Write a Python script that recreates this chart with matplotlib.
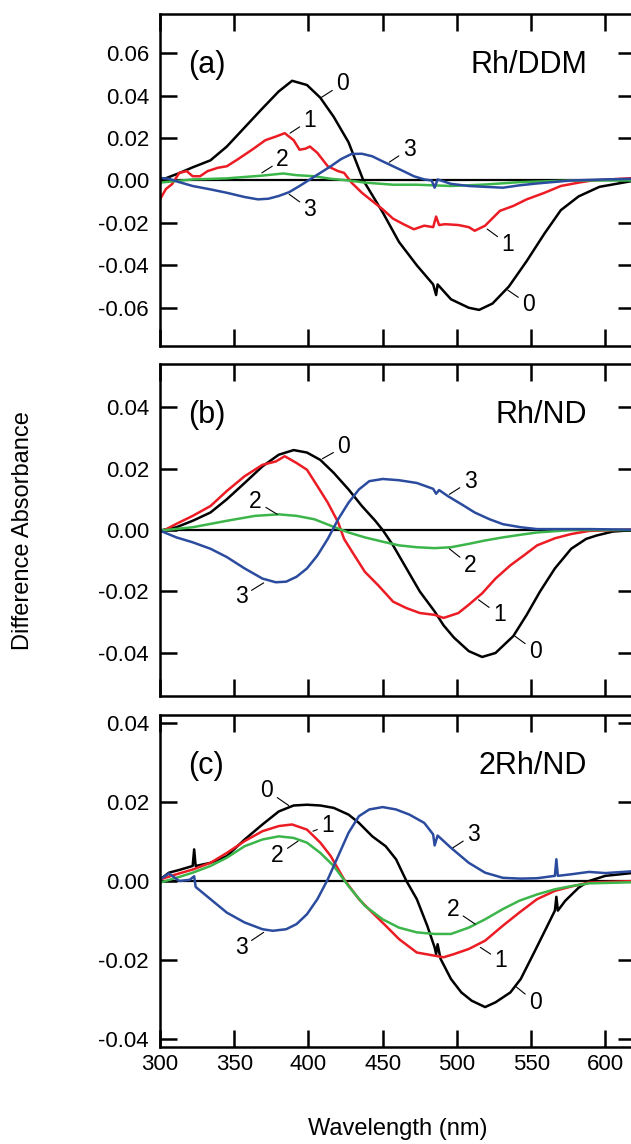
import matplotlib
matplotlib.use('Agg')
import matplotlib.pyplot as plt

plt.rcParams['font.family'] = ['Liberation Sans', 'DejaVu Sans']
plt.rcParams['axes.unicode_minus'] = False

# (wavelength nm, difference absorbance)
a_curve0 = [(300, 0.0), (313, 0.0035), (322, 0.0062), (334, 0.0095), (345, 0.016), (357, 0.025),
            (369, 0.034), (380, 0.042), (389, 0.047), (399, 0.045), (408, 0.039), (417, 0.030),
            (427, 0.018), (437, 0.0), (450, -0.015), (461, -0.029), (473, -0.040), (484, -0.049),
            (486, -0.054), (487, -0.049), (496, -0.056), (508, -0.060), (515, -0.061), (524, -0.058),
            (535, -0.050), (547, -0.038), (559, -0.025), (570, -0.014), (582, -0.0075), (596, -0.003),
            (620, 0.0)]
a_curve1 = [(300, -0.0089), (304, -0.004), (308, -0.0018), (313, 0.0036), (318, 0.0044), (322, 0.002),
            (327, 0.002), (332, 0.0044), (339, 0.006), (345, 0.0067), (352, 0.0098), (362, 0.0145),
            (371, 0.019), (378, 0.0207), (384, 0.0223), (390, 0.019), (394, 0.0145), (398, 0.015),
            (401, 0.016), (406, 0.013), (413, 0.0067), (420, 0.0044), (424, 0.0036), (429, -0.001),
            (436, -0.0058), (443, -0.0097), (450, -0.0136), (457, -0.018), (464, -0.0206), (471, -0.023),
            (478, -0.0213), (484, -0.022), (486, -0.017), (488, -0.021), (492, -0.0206), (501, -0.021),
            (508, -0.022), (512, -0.0237), (519, -0.0213), (529, -0.0143), (538, -0.012), (547, -0.0089),
            (559, -0.0058), (570, -0.0026), (582, -0.001), (591, 0.0), (620, 0.0012)]
a_curve2 = [(300, -0.001), (322, 0.0005), (345, 0.001), (369, 0.0023), (383, 0.0033), (392, 0.0025),
            (404, 0.002), (415, 0.0008), (427, 0.0), (438, -0.001), (457, -0.002), (473, -0.002),
            (496, -0.0026), (519, -0.0019), (542, -0.0008), (577, 0.0), (620, 0.0)]
a_curve3 = [(300, 0.0012), (306, 0.0008), (313, -0.0008), (322, -0.0026), (334, -0.0042), (345, -0.0058),
            (357, -0.0078), (366, -0.0089), (373, -0.0086), (380, -0.0073), (387, -0.0055), (394, -0.0026),
            (401, 0.0005), (408, 0.0036), (415, 0.0067), (422, 0.0101), (429, 0.0125), (436, 0.0126),
            (443, 0.0114), (450, 0.009), (457, 0.0067), (464, 0.0044), (471, 0.002), (478, 0.0005),
            (483, 0.0), (485, -0.0034), (487, 0.0005), (496, -0.0016), (508, -0.0026), (519, -0.003),
            (531, -0.0034), (542, -0.0023), (554, -0.0014), (577, 0.0), (600, 0.0005), (620, 0.0008)]

b_curve0 = [(300, -0.0002), (311, 0.0009), (322, 0.003), (334, 0.0057), (345, 0.010), (357, 0.0153),
            (369, 0.0207), (380, 0.0245), (390, 0.026), (399, 0.0252), (408, 0.0228), (417, 0.0186),
            (427, 0.0132), (436, 0.0078), (445, 0.003), (450, 0.0), (457, -0.005), (466, -0.0125),
            (475, -0.020), (485, -0.0265), (491, -0.031), (498, -0.035), (508, -0.0394), (517, -0.0413),
            (526, -0.040), (538, -0.0345), (547, -0.0276), (556, -0.020), (566, -0.0125), (577, -0.0061),
            (587, -0.0029), (594, -0.0018), (605, -0.0005), (620, 0.0)]
b_curve1 = [(300, -0.0008), (311, 0.002), (322, 0.0046), (334, 0.0078), (345, 0.0127), (357, 0.0175),
            (369, 0.0212), (378, 0.0223), (384, 0.024), (392, 0.0218), (399, 0.0196), (406, 0.0143),
            (413, 0.0089), (420, 0.0025), (424, -0.0029), (431, -0.0083), (438, -0.0136), (447, -0.018),
            (457, -0.0233), (466, -0.0254), (475, -0.027), (485, -0.0276), (491, -0.0286), (501, -0.027),
            (508, -0.0243), (517, -0.0206), (526, -0.0158), (536, -0.0115), (545, -0.0083), (554, -0.005),
            (566, -0.0027), (577, -0.0013), (589, -0.0003), (620, 0.0002)]
b_curve2 = [(300, -0.0002), (322, 0.0009), (345, 0.003), (364, 0.0046), (380, 0.0051), (392, 0.0046),
            (404, 0.0035), (415, 0.0014), (427, -0.0008), (438, -0.0024), (450, -0.0038), (461, -0.005),
            (473, -0.0056), (485, -0.0059), (496, -0.0056), (508, -0.0045), (519, -0.0034), (531, -0.0024),
            (542, -0.0016), (554, -0.0008), (577, 0.0), (620, 0.0)]
b_curve3 = [(300, -0.0002), (311, -0.0024), (322, -0.004), (334, -0.0061), (345, -0.0088), (357, -0.0125),
            (369, -0.0158), (378, -0.017), (385, -0.0168), (392, -0.0152), (399, -0.0125), (406, -0.0083),
            (413, -0.0029), (420, 0.0035), (427, 0.0089), (434, 0.0132), (441, 0.0159), (450, 0.0166),
            (461, 0.0162), (473, 0.0153), (484, 0.0134), (486, 0.0118), (488, 0.013), (494, 0.011),
            (503, 0.0084), (512, 0.0057), (522, 0.0035), (531, 0.0019), (543, 0.0009), (554, 0.0003),
            (589, 0.0003), (620, 0.0001)]

c_curve0 = [(300, 0.0004), (306, 0.0021), (313, 0.0028), (322, 0.0038), (323, 0.008), (324, 0.0038),
            (334, 0.0046), (345, 0.0063), (357, 0.0105), (369, 0.0143), (380, 0.0176), (390, 0.0191),
            (399, 0.0193), (408, 0.0191), (417, 0.0185), (427, 0.0168), (434, 0.0147), (443, 0.0113),
            (452, 0.0088), (459, 0.0055), (466, 0.0), (473, -0.0046), (480, -0.0113), (485, -0.0168),
            (486, -0.0185), (487, -0.016), (489, -0.0197), (496, -0.0248), (503, -0.0282), (510, -0.0303),
            (519, -0.0319), (526, -0.0307), (536, -0.0282), (543, -0.0248), (552, -0.0181), (561, -0.0113),
            (566, -0.0075), (567, -0.004), (568, -0.0075), (573, -0.005), (582, -0.0017), (589, 0.0),
            (600, 0.0013), (620, 0.0021)]
c_curve1 = [(300, 0.0004), (311, 0.0017), (322, 0.0029), (334, 0.0046), (345, 0.0071), (357, 0.0101),
            (369, 0.0126), (380, 0.0139), (389, 0.0143), (399, 0.013), (408, 0.0097), (415, 0.0063),
            (424, 0.0004), (434, -0.0046), (443, -0.008), (452, -0.0113), (461, -0.0147), (473, -0.0181),
            (485, -0.0189), (491, -0.0193), (498, -0.0185), (508, -0.0172), (519, -0.0151), (531, -0.0113),
            (542, -0.008), (554, -0.0046), (566, -0.0025), (577, -0.0014), (589, -0.0004), (620, 0.0)]
c_curve2 = [(300, -0.0004), (311, 0.0008), (322, 0.0021), (334, 0.0038), (345, 0.0059), (357, 0.0088),
            (369, 0.0105), (380, 0.0113), (390, 0.0109), (399, 0.0097), (408, 0.0071), (417, 0.0038),
            (427, -0.0013), (438, -0.0063), (450, -0.0097), (461, -0.0118), (473, -0.013), (485, -0.0134),
            (496, -0.0134), (508, -0.0118), (519, -0.0097), (531, -0.0071), (542, -0.005), (554, -0.0034),
            (566, -0.0021), (577, -0.0013), (589, -0.0006), (620, -0.0003)]
c_curve3 = [(300, 0.0004), (306, 0.0019), (313, 0.0), (320, 0.0003), (323, 0.0012), (324, -0.0015),
            (334, -0.0046), (345, -0.008), (357, -0.0105), (369, -0.0122), (376, -0.0126), (385, -0.0122),
            (392, -0.0109), (399, -0.0084), (406, -0.0046), (413, 0.0004), (420, 0.0063), (427, 0.0122),
            (434, 0.0164), (441, 0.0181), (450, 0.0187), (459, 0.0181), (468, 0.0168), (478, 0.0147),
            (484, 0.0118), (485, 0.009), (487, 0.0115), (496, 0.0084), (508, 0.0046), (519, 0.0021),
            (531, 0.0008), (543, 0.0006), (554, 0.0007), (566, 0.0013), (567, 0.0055), (568, 0.0013),
            (577, 0.0017), (589, 0.0023), (600, 0.002), (620, 0.0025)]

# curve labels: (text, point on curve, text position)
a_labels = [('0', (408.6, 0.0391), (423, 0.0456)), ('1', (387.6, 0.0223), (401, 0.0285)),
            ('2', (368.6, 0.0036), (382.5, 0.0098)), ('3', (454.4, 0.0086), (467.8, 0.0148)),
            ('3', (387, -0.0065), (401, -0.0136)), ('1', (520.4, -0.0229), (534.3, -0.030)),
            ('0', (534.3, -0.0517), (548.3, -0.0584))]
b_labels = [('0', (409.4, 0.0232), (423.8, 0.0271)), ('2', (379, 0.0051), (364.4, 0.0094)),
            ('3', (494.9, 0.0116), (508.9, 0.0159)), ('3', (369.8, -0.0172), (354.7, -0.0217)),
            ('2', (494.9, -0.0061), (508.9, -0.0115)), ('1', (514.6, -0.0227), (528.6, -0.0276)),
            ('0', (539, -0.0345), (552.9, -0.0394))]
c_labels = [('0', (386.7, 0.0191), (372, 0.0229)), ('1', (403, 0.0126), (413, 0.0140)),
            ('2', (393, 0.0101), (379, 0.0065)), ('3', (497.3, 0.0084), (511.2, 0.0118)),
            ('2', (512.3, -0.0109), (497.3, -0.0071)), ('1', (515.8, -0.0168), (529.7, -0.0202)),
            ('3', (369.8, -0.013), (354.7, -0.0168)), ('0', (539, -0.0265), (552.9, -0.0307))]

panel_tags = ['(a)', '(b)', '(c)']
panel_names = ['Rh/DDM', 'Rh/ND', '2Rh/ND']
y_limits = [(-0.078, 0.0785), (-0.054, 0.054), (-0.042, 0.042)]
y_ticks = [[-0.06, -0.04, -0.02, 0.0, 0.02, 0.04, 0.06],
           [-0.04, -0.02, 0.0, 0.02, 0.04],
           [-0.04, -0.02, 0.0, 0.02, 0.04]]
x_ticks = [300, 350, 400, 450, 500, 550, 600]

colors = ['black', '#ec1c24', '#3cb54a', '#2b4c9e']

fig = plt.figure(figsize=(6.31, 11.44), dpi=100)
bottoms = [0.6976, 0.3916, 0.0848]
panels = [([a_curve0, a_curve1, a_curve2, a_curve3], a_labels),
          ([b_curve0, b_curve1, b_curve2, b_curve3], b_labels),
          ([c_curve0, c_curve1, c_curve2, c_curve3], c_labels)]

for i, (curves, labels) in enumerate(panels):
    ax = fig.add_axes([0.2536, bottoms[i], 0.7528, 0.2902])
    ax.axhline(0, color='black', lw=1.6, zorder=1)
    for curve, col in zip(curves, colors):
        wl = [p[0] for p in curve]
        ab = [p[1] for p in curve]
        ax.plot(wl, ab, color=col, lw=1.8, zorder=2)
    for txt, xy, xyt in labels:
        ax.annotate(txt, xy=xy, xytext=xyt, ha='center', va='center', fontsize=16.5,
                    arrowprops=dict(arrowstyle='-', color='black', lw=0.8, shrinkA=1, shrinkB=0))
    ax.text(0.059, 0.845, panel_tags[i], transform=ax.transAxes, fontsize=22, ha='left', va='center')
    ax.text(0.899, 0.845, panel_names[i], transform=ax.transAxes, fontsize=22, ha='right', va='center')
    ax.set_xlim(300, 620)
    ax.set_ylim(*y_limits[i])
    ax.set_xticks(x_ticks)
    ax.set_yticks(y_ticks[i])
    ax.set_yticklabels(['%.2f' % v for v in y_ticks[i]])
    ax.tick_params(direction='in', length=12, width=1.8, top=True, right=True, labelsize=16)
    ax.tick_params(axis='y', pad=8)
    ax.tick_params(axis='x', pad=5)
    if i < 2:
        ax.tick_params(labelbottom=False)
    for s in ax.spines.values():
        s.set_linewidth(1.8)

fig.text(0.037, 1 - 531 / 1144, 'Difference Absorbance', rotation=90, ha='center', va='center', fontsize=17)
fig.text(398 / 631, 1 - 1129 / 1144, 'Wavelength (nm)', ha='center', va='center', fontsize=17)

fig.savefig('out.png', dpi=100)
